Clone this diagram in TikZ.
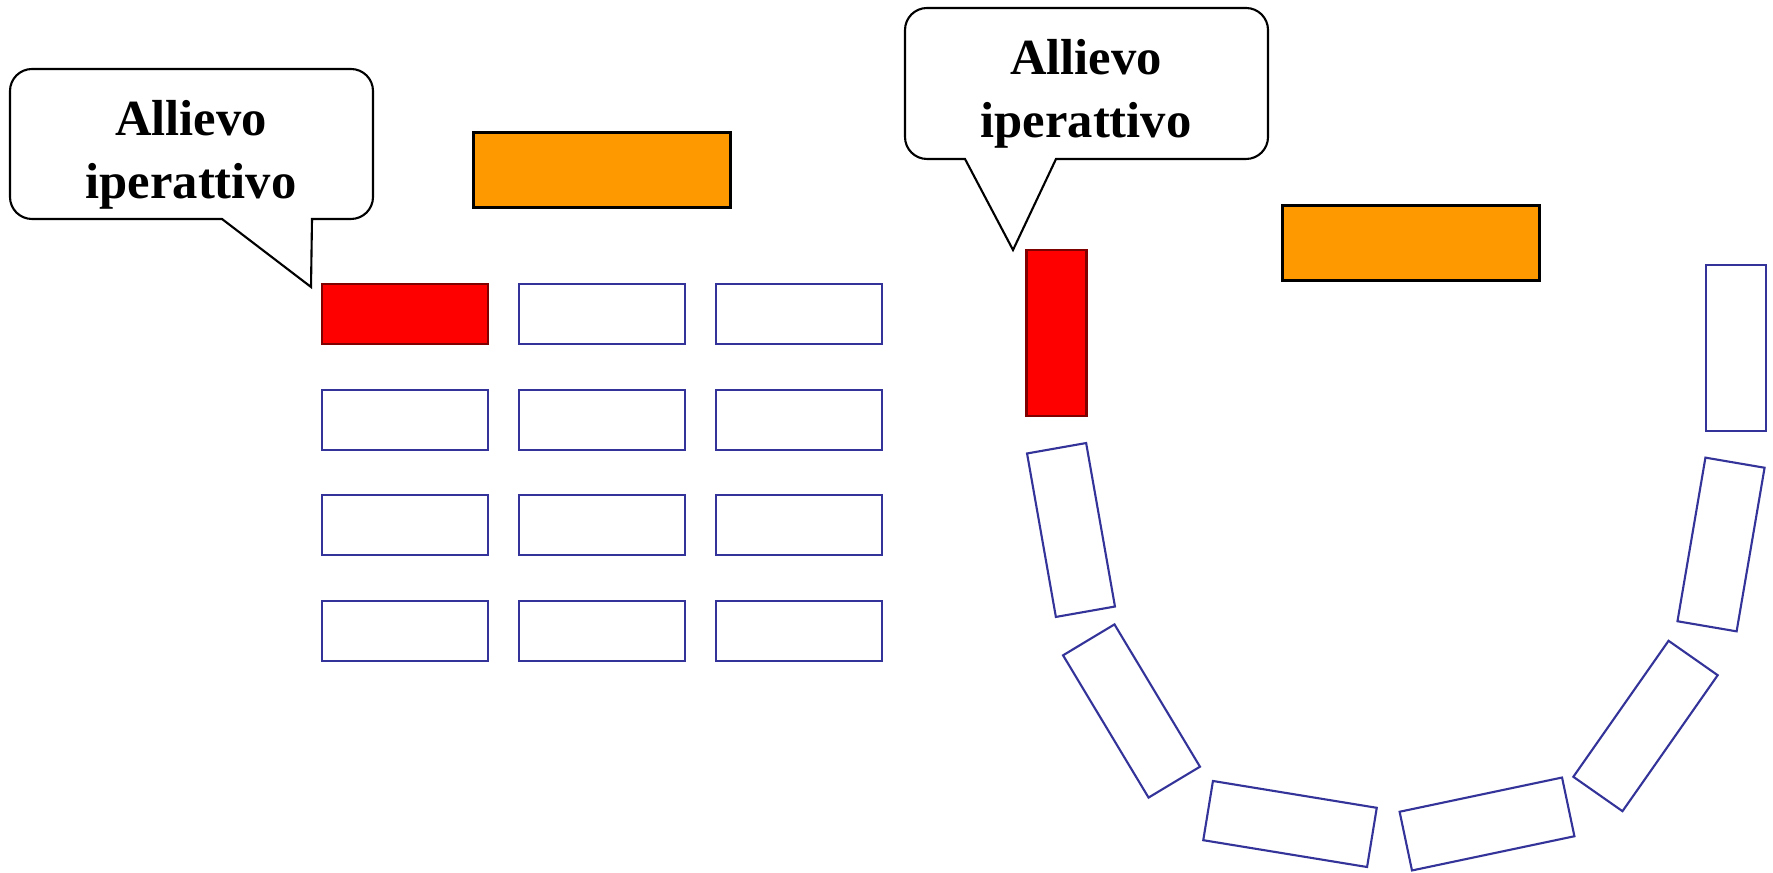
\documentclass[tikz,border=0pt]{standalone}
\usepackage{fontspec}
\setmainfont{Liberation Serif}
\usepackage{tikz}
\definecolor{deskblue}{HTML}{333399}
\definecolor{deskred}{HTML}{FF0000}
\definecolor{redline}{HTML}{800000}
\definecolor{cattedra}{HTML}{FF9900}

\begin{document}
\begin{tikzpicture}[
                    desk/.style = {draw=deskblue, line width=0.6pt, inner sep=0pt,
                                   minimum width=1.66cm, minimum height=0.6cm},
                    hotdesk/.style = {desk, draw=redline, fill=deskred},
                    teacher/.style = {draw=black, line width=0.8pt, fill=cattedra, inner sep=0pt,
                                      minimum width=2.57cm, minimum height=0.75cm},
                    balloon/.style = {draw=black, line width=0.6pt, fill=white},
                    balloontext/.style = {align=center,
                                          font=\fontsize{14.4}{17.8}\selectfont\bfseries},
                    scale = 1]

\useasboundingbox (0,0) rectangle (17.73,8.72);

%left classroom: rows
\node [teacher] (catL) at (6.02,7.02) {};

\node [hotdesk] (L11) at (4.05,5.58) {};
\node [desk] (L12) at (6.02,5.58) {};
\node [desk] (L13) at (7.99,5.58) {};
\node [desk] (L21) at (4.05,4.52) {};
\node [desk] (L22) at (6.02,4.52) {};
\node [desk] (L23) at (7.99,4.52) {};
\node [desk] (L31) at (4.05,3.47) {};
\node [desk] (L32) at (6.02,3.47) {};
\node [desk] (L33) at (7.99,3.47) {};
\node [desk] (L41) at (4.05,2.41) {};
\node [desk] (L42) at (6.02,2.41) {};
\node [desk] (L43) at (7.99,2.41) {};

%balloon left
\draw [balloon] (1.9,8.03) [rounded corners=0.22cm]
       -- (0.10,8.03) -- (0.10,6.53) [sharp corners] -- (2.22,6.53)
       -- (3.11,5.85) -- (3.12,6.53) [rounded corners=0.22cm] -- (3.73,6.53)
       -- (3.73,8.03) -- cycle;
\node [balloontext] (txtL) at (1.91,7.17) {Allievo\\iperattivo};

%right classroom: horseshoe
\node [teacher] (catR) at (14.11,6.29) {};

\node [hotdesk, rotate=90] (R1) at (10.565,5.39) {};
\node [desk, rotate=100] (R2) at (10.71,3.42) {};
\node [desk, rotate=121] (R3) at (11.315,1.61) {};
\node [desk, rotate=-9.3] (R4) at (12.90,0.48) {};
\node [desk, rotate=11.9] (R5) at (14.87,0.48) {};
\node [desk, rotate=55] (R6) at (16.455,1.46) {};
\node [desk, rotate=80.3] (R7) at (17.21,3.275) {};
\node [desk, rotate=90] (R8) at (17.36,5.24) {};

%balloon right
\draw [balloon] (10.86,8.64) [rounded corners=0.22cm]
       -- (9.05,8.64) -- (9.05,7.13) [sharp corners] -- (9.65,7.13)
       -- (10.13,6.22) -- (10.56,7.13) [rounded corners=0.22cm] -- (12.68,7.13)
       -- (12.68,8.64) -- cycle;
\node [balloontext] (txtR) at (10.86,7.78) {Allievo\\iperattivo};

\end{tikzpicture}
\end{document}
